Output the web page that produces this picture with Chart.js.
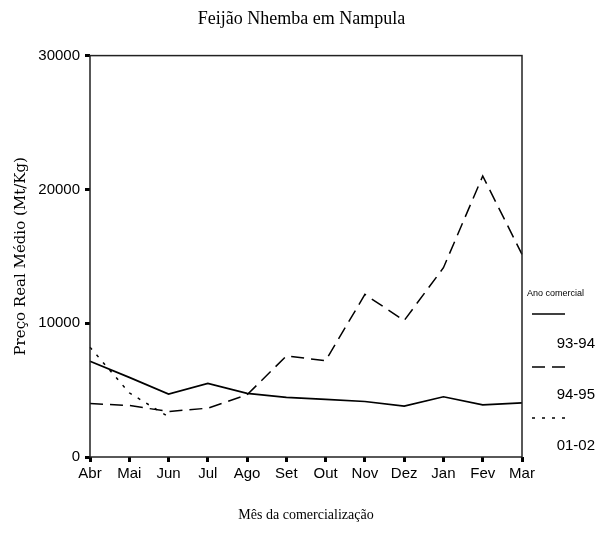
<!DOCTYPE html>
<html lang="pt">
<head>
<meta charset="utf-8">
<title>Feijão Nhemba em Nampula</title>
<script src="https://cdn.jsdelivr.net/npm/chart.js@4.4.1/dist/chart.umd.min.js"></script>
<style>
    html, body { margin: 0; padding: 0; background: #fff; }
    #chart { display: block; }
</style>
</head>
<body>
<canvas id="chart" width="603" height="540"></canvas>
<script>
// months of the commercial year
const months = ['Abr', 'Mai', 'Jun', 'Jul', 'Ago', 'Set', 'Out', 'Nov', 'Dez', 'Jan', 'Fev', 'Mar'];

// average real price (Mt/Kg)
const price9394 = [7150, 5950, 4700, 5500, 4750, 4450, 4300, 4150, 3800, 4500, 3900, 4050];
const price9495 = [4000, 3850, 3400, 3650, 4650, 7550, 7200, 12150, 10200, 14150, 21000, 15150];
const price0102 = [8200, 4800, 3000, null, null, null, null, null, null, null, null, null];

const seriesLabels = ['93-94', '94-95', '01-02'];
const yTicks = [0, 10000, 20000, 30000];

const tickFont = { family: "'Liberation Sans', Arial, sans-serif", size: 15 };

document.addEventListener('DOMContentLoaded', function() {
    drawChart();
});


// plot frame, drawn on all four sides
const frameBox = {
    id: 'frameBox',
    afterDatasetsDraw(chart) {
        const { ctx, chartArea } = chart;
        ctx.save();
        ctx.strokeStyle = '#222';
        ctx.lineWidth = 1.5;
        ctx.strokeRect(chartArea.left, chartArea.top, chartArea.right - chartArea.left, chartArea.bottom - chartArea.top);
        ctx.restore();
    }
};

// legend at the right of the plot, like the original
const sideLegend = {
    id: 'sideLegend',
    afterDraw(chart) {
        const { ctx, chartArea } = chart;
        const x0 = chartArea.right + 10;
        const x1 = chartArea.right + 43;
        const textRight = chartArea.right + 73;
        const lineY = [314, 367, 418];
        const textY = [344, 395, 446];

        ctx.save();
        ctx.fillStyle = '#000';
        ctx.font = "9px 'Liberation Sans', Arial, sans-serif";
        ctx.textAlign = 'left';
        ctx.textBaseline = 'middle';
        ctx.fillText('Ano comercial', chartArea.right + 5, 294);

        chart.data.datasets.forEach((ds, i) => {
            ctx.beginPath();
            ctx.setLineDash(ds.borderDash || []);
            ctx.strokeStyle = ds.borderColor;
            ctx.lineWidth = ds.borderWidth;
            ctx.moveTo(x0, lineY[i]);
            ctx.lineTo(x1, lineY[i]);
            ctx.stroke();

            ctx.setLineDash([]);
            ctx.font = tickFont.size + 'px ' + tickFont.family;
            ctx.textAlign = 'right';
            ctx.fillText(ds.label, textRight, textY[i]);
        });
        ctx.restore();
    }
};


function drawChart(){

    const ctx = document.getElementById('chart');

    const data = {
        labels: months,
        datasets: [
            {
                label: seriesLabels[0],
                data: price9394,
                borderColor: '#000',
                borderWidth: 1.7,
                borderDash: [],
                pointRadius: 0,
                tension: 0
            },
            {
                label: seriesLabels[1],
                data: price9495,
                borderColor: '#000',
                borderWidth: 1.5,
                borderDash: [13, 7],
                pointRadius: 0,
                tension: 0
            },
            {
                label: seriesLabels[2],
                data: price0102,
                borderColor: '#000',
                borderWidth: 1.5,
                borderDash: [3, 7],
                pointRadius: 0,
                tension: 0
            }
        ]
    };

    new Chart(ctx, {
        type: 'line',
        data: data,
        options: {
            responsive: false,
            animation: false,
            devicePixelRatio: 1,
            layout: { padding: { left: 0, right: 0, top: 0, bottom: 12 } },
            plugins: {
                legend: { display: false },
                tooltip: { enabled: false },
                title: {
                    display: true,
                    text: 'Feijão Nhemba em Nampula',
                    color: '#000',
                    font: { family: "'Liberation Serif', serif", size: 18, weight: 'normal' },
                    padding: { top: 8, bottom: 26 }
                }
            },
            scales: {
                x: {
                    type: 'category',
                    offset: false,
                    grid: { display: true, drawOnChartArea: false, offset: false, tickLength: 5, tickWidth: 3, color: '#000' },
                    border: { display: false },
                    ticks: { color: '#000', font: tickFont, padding: 3, maxRotation: 0, autoSkip: false },
                    title: {
                        display: true,
                        text: 'Mês da comercialização',
                        color: '#000',
                        font: { family: "'Liberation Serif', serif", size: 14 },
                        padding: { top: 0, bottom: 4 }
                    },
                    afterFit(axis) { axis.height = 71; }
                },
                y: {
                    min: 0,
                    max: 30000,
                    afterBuildTicks(axis) { axis.ticks = yTicks.map(v => ({ value: v })); },
                    grid: { display: true, drawOnChartArea: false, tickLength: 5, tickWidth: 3, color: '#000' },
                    border: { display: false },
                    ticks: {
                        color: '#000',
                        font: tickFont,
                        padding: 5,
                        callback: value => String(value)
                    },
                    title: {
                        display: true,
                        text: 'Preço Real Médio (Mt/Kg)',
                        color: '#000',
                        font: { family: "'DejaVu Serif', serif", size: 15 },
                        padding: { top: 12, bottom: 0 }
                    },
                    afterFit(axis) { axis.width = 90; }
                },
                // empty axis only to keep room for the legend on the right
                yRoom: {
                    position: 'right',
                    display: true,
                    grid: { display: false },
                    border: { display: false },
                    ticks: { display: false },
                    afterFit(axis) { axis.width = 81; }
                }
            }
        },
        plugins: [frameBox, sideLegend]
    });

}
</script>
</body>
</html>
